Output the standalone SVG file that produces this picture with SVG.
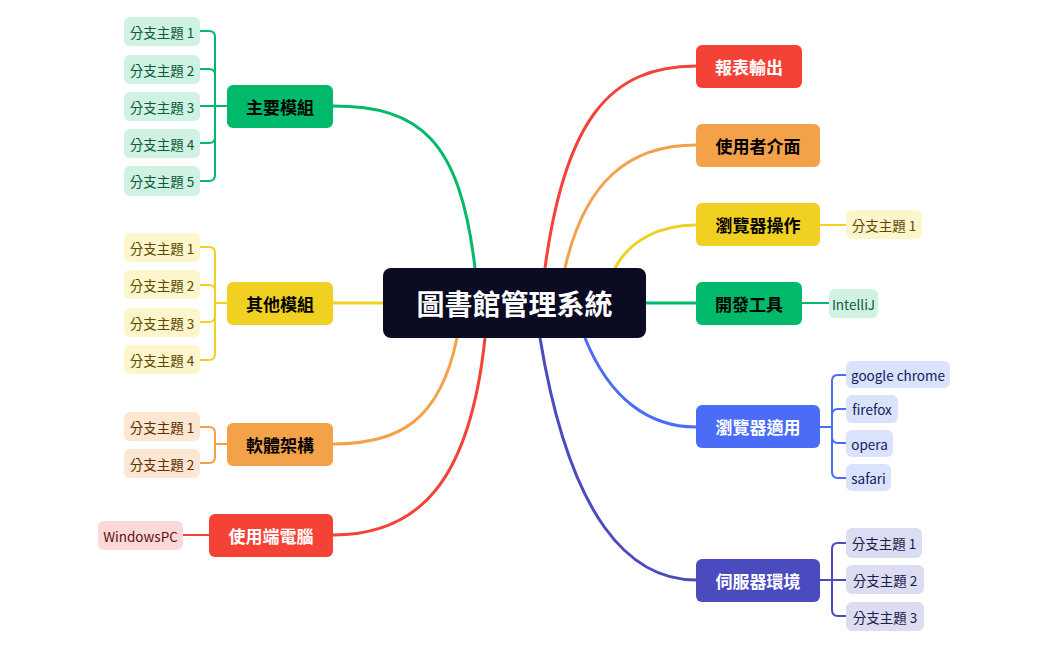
<svg xmlns="http://www.w3.org/2000/svg" width="1049" height="650" viewBox="0 0 1049 650">
<style>
text{font-family:"Noto Sans CJK TC","Noto Sans",sans-serif;dominant-baseline:central;text-anchor:middle}
.m{font-size:17px;font-weight:bold}
.s{font-size:13.5px}
.c{fill:none;stroke-width:3}
.b{fill:none;stroke-width:2}
.w{fill:#fff}
</style>
<rect width="1049" height="650" fill="#fff"/>
<g id="connectors">
<path class="c" stroke="#00b96b" d="M475,268 C460,140 420,106 333,106"/>
<path class="c" stroke="#f0d020" d="M383,303 H333"/>
<path class="c" stroke="#f4a24a" d="M457,338 C440,420 400,444 333,444"/>
<path class="c" stroke="#f44336" d="M485,338 C470,480 420,535 333,535"/>
<path class="c" stroke="#f44336" d="M545,268 C565,120 610,66 696,66"/>
<path class="c" stroke="#f4a24a" d="M565,268 C585,180 630,145 696,145"/>
<path class="c" stroke="#f0d020" d="M615,268 C630,240 660,225 696,225"/>
<path class="c" stroke="#00b96b" d="M646,303 H696"/>
<path class="c" stroke="#4a6cf7" d="M585,338 C610,400 650,427 696,427"/>
<path class="c" stroke="#4b4bbf" d="M540,338 C570,520 630,580 696,580"/>
<g class="b" stroke="#00b96b"><path d="M200,31 H209 Q215,31 215,37 V175 Q215,181 209,181 H200 M200,69 H209 Q215,69 215,75 M200,143 H209 Q215,143 215,137 M200,106 H227"/></g>
<g class="b" stroke="#f0d020"><path d="M200,247 H209 Q215,247 215,253 V354 Q215,360 209,360 H200 M200,285 H209 Q215,285 215,291 M200,322 H209 Q215,322 215,316 M215,303 H227"/></g>
<g class="b" stroke="#f4a24a"><path d="M200,427 H209 Q215,427 215,433 V457 Q215,463 209,463 H200 M215,444 H227"/></g>
<path class="b" stroke="#f44336" d="M183,535 H209"/>
<path class="b" stroke="#f0d020" d="M820,225 H846"/>
<path class="b" stroke="#00b96b" d="M802,303 H829"/>
<g class="b" stroke="#4a6cf7"><path d="M820,427 H832 M846,375 H838 Q832,375 832,381 V472 Q832,478 838,478 H846 M846,409 H838 Q832,409 832,415 M846,443 H838 Q832,443 832,437"/></g>
<g class="b" stroke="#4b4bbf"><path d="M820,580 H832 M846,543 H838 Q832,543 832,549 V610 Q832,616 838,616 H846 M846,580 H832"/></g>
</g>
<g id="center"><rect x="383" y="268" width="263" height="70" rx="8" fill="#0b0b24"/><text x="514.5" y="303" class="w" style="font-size:28px;font-weight:bold">圖書館管理系統</text></g>
<g id="n-main"><rect x="227" y="85" width="106" height="43" rx="6" fill="#00b96b"/><text x="280" y="106.5" class="m">主要模組</text></g>
<g id="n-main-c" fill="#d0f2e3">
<rect x="124" y="17" width="76" height="29" rx="6"/><rect x="124" y="55" width="76" height="29" rx="6"/><rect x="124" y="92" width="76" height="29" rx="6"/><rect x="124" y="129" width="76" height="29" rx="6"/><rect x="124" y="166" width="76" height="30" rx="6"/>
<g class="s" fill="#0b5c3a"><text x="162" y="31.5">分支主題 1</text><text x="162" y="69.5">分支主題 2</text><text x="162" y="106.5">分支主題 3</text><text x="162" y="143.5">分支主題 4</text><text x="162" y="181">分支主題 5</text></g>
</g>
<g id="n-other"><rect x="227" y="282" width="106" height="43" rx="6" fill="#f0d020"/><text x="280" y="303.5" class="m">其他模組</text></g>
<g id="n-other-c" fill="#fdf5cc">
<rect x="124" y="233" width="76" height="29" rx="6"/><rect x="124" y="270" width="76" height="29" rx="6"/><rect x="124" y="308" width="76" height="29" rx="6"/><rect x="124" y="345" width="76" height="29" rx="6"/>
<g class="s" fill="#5c4a00"><text x="162" y="247.5">分支主題 1</text><text x="162" y="284.5">分支主題 2</text><text x="162" y="322.5">分支主題 3</text><text x="162" y="359.5">分支主題 4</text></g>
</g>
<g id="n-soft"><rect x="227" y="423" width="106" height="43" rx="6" fill="#f4a24a"/><text x="280" y="444.5" class="m">軟體架構</text></g>
<g id="n-soft-c" fill="#fde6d2">
<rect x="124" y="412" width="76" height="29" rx="6"/><rect x="124" y="449" width="76" height="29" rx="6"/>
<g class="s" fill="#5c3000"><text x="162" y="426.5">分支主題 1</text><text x="162" y="463.5">分支主題 2</text></g>
</g>
<g id="n-client"><rect x="209" y="514" width="124" height="43" rx="6" fill="#f44336"/><text x="271" y="535.5" class="m w">使用端電腦</text></g>
<g id="n-client-c"><rect x="98" y="521" width="85" height="29" rx="6" fill="#fcd8d8"/><text x="140.5" y="535.5" class="s" fill="#5c1010">WindowsPC</text></g>
<g id="n-report"><rect x="696" y="45" width="106" height="43" rx="6" fill="#f44336"/><text x="749" y="66.5" class="m w">報表輸出</text></g>
<g id="n-ui"><rect x="696" y="124" width="124" height="43" rx="6" fill="#f4a24a"/><text x="758" y="145.5" class="m">使用者介面</text></g>
<g id="n-bop"><rect x="696" y="203" width="124" height="43" rx="6" fill="#f0d020"/><text x="758" y="224.5" class="m">瀏覽器操作</text>
<rect x="846" y="210" width="76" height="29" rx="6" fill="#fdf5cc"/><text x="884" y="224.5" class="s" fill="#5c4a00">分支主題 1</text></g>
<g id="n-dev"><rect x="696" y="282" width="106" height="43" rx="6" fill="#00b96b"/><text x="749" y="303.5" class="m">開發工具</text>
<rect x="829" y="289" width="49" height="29" rx="6" fill="#d0f2e3"/><text x="853.5" y="303.5" class="s" fill="#0b5c3a">IntelliJ</text></g>
<g id="n-browser"><rect x="696" y="405" width="124" height="43" rx="6" fill="#4a6cf7"/><text x="758" y="426.5" class="m w">瀏覽器適用</text>
<g fill="#dae2fd"><rect x="846" y="361" width="104" height="27" rx="6"/><rect x="846" y="395" width="52" height="28" rx="6"/><rect x="846" y="430" width="47" height="27" rx="6"/><rect x="846" y="464" width="45" height="27" rx="6"/></g>
<g class="s" fill="#10205c"><text x="898" y="374.5">google chrome</text><text x="872" y="409">firefox</text><text x="869.5" y="443.5">opera</text><text x="868.5" y="477.5">safari</text></g></g>
<g id="n-server"><rect x="696" y="559" width="124" height="43" rx="6" fill="#4b4bbf"/><text x="758" y="580.5" class="m w">伺服器環境</text>
<g fill="#dcdcf2"><rect x="846" y="528" width="76" height="30" rx="6"/><rect x="846" y="565" width="78" height="29" rx="6"/><rect x="846" y="602" width="78" height="29" rx="6"/></g>
<g class="s" fill="#1c1c4c"><text x="884" y="543">分支主題 1</text><text x="885" y="579.5">分支主題 2</text><text x="885" y="616.5">分支主題 3</text></g></g>
</svg>
